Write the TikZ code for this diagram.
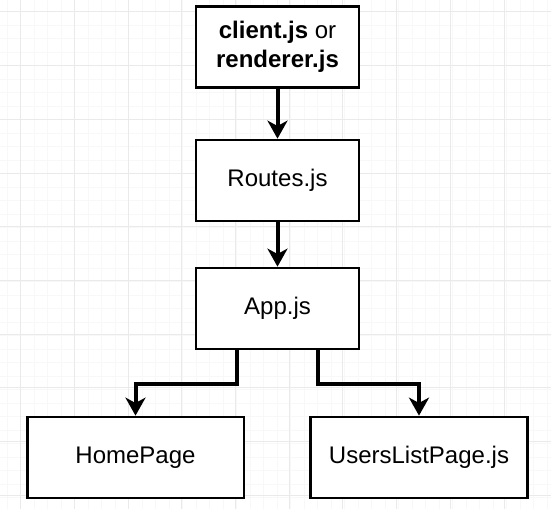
\documentclass[tikz,border=0pt]{standalone}
\usepackage{fontspec}
\setmainfont{Liberation Sans}
\usetikzlibrary{arrows.meta}

\begin{document}
\begin{tikzpicture}[x=0.75pt,y=0.75pt,yscale=-1,xscale=1,
  filebox/.style={draw=black,line width=2pt,fill=white,minimum width=122.25pt,minimum height=60.75pt,inner sep=0pt,align=center,font=\fontsize{18}{21.75}\selectfont},
  pagebox/.style={filebox,minimum width=162.5pt},
  conn/.style={line width=3pt,-{Stealth[length=13.5pt,width=15pt,inset=4pt]}}]
\useasboundingbox (0,0) rectangle (551,509);

%Grid
\foreach \gx in {7.2,20.7,...,551} {\draw [color={rgb, 255:red, 248; green, 248; blue, 248 }  ,line width=0.75pt] (\gx,0) -- (\gx,509);}
\foreach \gy in {-1.5,12,...,509} {\draw [color={rgb, 255:red, 248; green, 248; blue, 248 }  ,line width=0.75pt] (0,\gy) -- (551,\gy);}
\foreach \gx in {20.7,74.4,...,551} {\draw [color={rgb, 255:red, 234; green, 234; blue, 234 }  ,line width=0.75pt] (\gx,0) -- (\gx,509);}
\foreach \gy in {12,65.7,...,509} {\draw [color={rgb, 255:red, 234; green, 234; blue, 234 }  ,line width=0.75pt] (0,\gy) -- (551,\gy);}

%Shape: Rectangle
\node [filebox] (entry) at (277.5,47) {\textbf{client.js} or\\\textbf{renderer.js}};
%Shape: Rectangle
\node [filebox] (routes) at (277.5,180.5) {Routes.js};
%Shape: Rectangle
\node [filebox] (app) at (277.5,308.5) {App.js};
%Shape: Rectangle
\node [pagebox] (home) at (135.5,457.5) {HomePage};
%Shape: Rectangle
\node [pagebox] (users) at (419,457.5) {UsersListPage.js};

%Straight Lines
\draw [conn] (entry) -- (routes);
\draw [conn] (routes) -- (app);
%Elbow Lines
\draw [conn] ([xshift=-30.4pt]app.south) -- ++(0,34) -| (home);
\draw [conn] ([xshift=30.4pt]app.south) -- ++(0,34) -| (users);

\end{tikzpicture}
\end{document}
